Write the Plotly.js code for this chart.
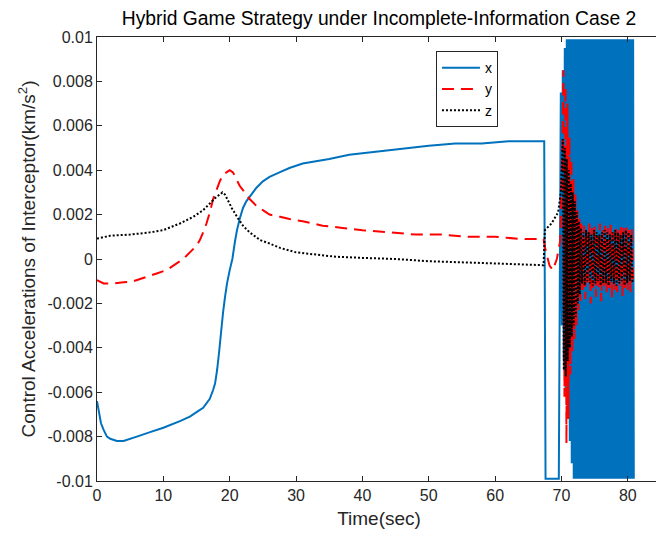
<!DOCTYPE html>
<html>
<head>
<meta charset="utf-8">
<script src="https://cdn.plot.ly/plotly-3.0.1.min.js"></script>
<style>
html, body { margin: 0; padding: 0; overflow: hidden; background: #fff; width: 656px; height: 541px; }
#chart { width: 700px; height: 541px; }
</style>
</head>
<body>
<div id="chart"></div>
<script>
// ---- Data ----
const seriesNames = ['x', 'y', 'z'];

const timeX = [0, 0.3, 0.6, 1, 1.5, 2, 3, 4, 6, 8, 10, 12.5, 14, 15, 16, 17, 17.5, 17.8, 18.1, 18.4,
  18.7, 19, 19.3, 19.6, 20, 20.4, 20.8, 21.1, 21.5, 22, 22.5, 23, 24, 25, 26, 27.5, 29, 31, 33, 35,
  38, 41, 44, 47, 50, 54, 58, 62, 67.4, 67.6, 69.6,
  69.9, 70.05, 70.2, 70.35, 70.5, 70.65, 70.8, 70.95, 71.1, 71.25, 71.4, 71.55, 71.7, 71.85,
  72.0, 72.1, 72.2, 72.3, 72.4, 72.5, 72.6, 72.7, 72.8, 72.9, 73.0, 73.1, 73.2, 73.3, 73.4, 73.5, 73.6, 73.7, 73.8, 73.9,
  74.0, 74.1, 74.2, 74.3, 74.4, 74.5, 74.6, 74.7, 74.8, 74.9, 75.0, 75.1, 75.2, 75.3, 75.4, 75.5, 75.6, 75.7, 75.8, 75.9,
  76.0, 76.1, 76.2, 76.3, 76.4, 76.5, 76.6, 76.7, 76.8, 76.9, 77.0, 77.1, 77.2, 77.3, 77.4, 77.5, 77.6, 77.7, 77.8, 77.9,
  78.0, 78.1, 78.2, 78.3, 78.4, 78.5, 78.6, 78.7, 78.8, 78.9, 79.0, 79.1, 79.2, 79.3, 79.4, 79.5, 79.6, 79.7, 79.8, 79.9,
  80.0, 80.1, 80.2, 80.3, 80.4, 80.5, 80.6, 80.7, 80.8, 80.9];
const accelX = [-0.0064, -0.0069, -0.0074, -0.0077, -0.0080, -0.0081, -0.0082, -0.0082, -0.0080, -0.0078,
  -0.0076, -0.0073, -0.0071, -0.0069, -0.0067, -0.0063, -0.0059, -0.0056, -0.0050, -0.0042,
  -0.0033, -0.0024, -0.0017, -0.0011, -0.0005, 0.0000, 0.0008, 0.0013, 0.0018, 0.0023,
  0.0026, 0.0028, 0.0032, 0.0035, 0.0037, 0.0039, 0.0041, 0.0043, 0.0044, 0.0045,
  0.0047, 0.0048, 0.0049, 0.0050, 0.0051, 0.0052, 0.0052, 0.0053, 0.0053, -0.0099, -0.0099,
  0.0075, -0.0030, 0.0085, -0.0045, 0.0095, -0.0060, 0.0099, -0.0072, 0.0099, -0.0082, 0.0099, -0.0092, 0.0099, -0.0099,
  0.0099, -0.0099, 0.0099, -0.0099, 0.0099, -0.0099, 0.0099, -0.0099, 0.0099, -0.0099, 0.0099, -0.0099, 0.0099, -0.0099, 0.0099, -0.0099, 0.0099, -0.0099, 0.0099, -0.0099,
  0.0099, -0.0099, 0.0099, -0.0099, 0.0099, -0.0099, 0.0099, -0.0099, 0.0099, -0.0099, 0.0099, -0.0099, 0.0099, -0.0099, 0.0099, -0.0099, 0.0099, -0.0099, 0.0099, -0.0099,
  0.0099, -0.0099, 0.0099, -0.0099, 0.0099, -0.0099, 0.0099, -0.0099, 0.0099, -0.0099, 0.0099, -0.0099, 0.0099, -0.0099, 0.0099, -0.0099, 0.0099, -0.0099, 0.0099, -0.0099,
  0.0099, -0.0099, 0.0099, -0.0099, 0.0099, -0.0099, 0.0099, -0.0099, 0.0099, -0.0099, 0.0099, -0.0099, 0.0099, -0.0099, 0.0099, -0.0099, 0.0099, -0.0099, 0.0099, -0.0099,
  0.0099, -0.0099, 0.0099, -0.0099, 0.0099, -0.0099, 0.0099, -0.0099, 0.0099, -0.0099];

const timeY = [0, 1, 2.4, 4, 5.5, 7.5, 9, 10.5, 12, 13, 14, 15, 15.5, 16, 16.5, 17, 17.5, 18, 18.5, 19,
  19.5, 20, 20.5, 21, 21.5, 22, 23, 24, 25, 26, 27.6, 29, 31, 34, 37, 40, 44, 48, 52, 56,
  60, 64, 67.3,
  67.6, 68.2, 68.7, 69.3, 69.8,
  70.1, 70.3, 70.45, 70.6, 70.75, 70.9, 71.05, 71.2, 71.35, 71.5, 71.65, 71.8, 71.95, 72.1, 72.25, 72.4, 72.55, 72.7, 72.85, 73.0,
  73.2, 73.4, 73.6, 73.8, 74.0, 74.2, 74.4, 74.6, 74.8, 75.0, 75.2, 75.4, 75.6, 75.8, 76.0, 76.2, 76.4, 76.6, 76.8, 77.0,
  77.2, 77.4, 77.6, 77.8, 78.0, 78.2, 78.4, 78.6, 78.8, 79.0, 79.2, 79.4, 79.6, 79.8, 80.0, 80.2, 80.4, 80.6, 80.8];
const accelY = [-0.00095, -0.0011, -0.0011, -0.00105, -0.0010, -0.0008, -0.00065, -0.0005, -0.0002, 0.0000,
  0.0003, 0.0006, 0.00085, 0.0012, 0.0016, 0.0021, 0.0027, 0.0031, 0.0035, 0.0038,
  0.0039, 0.0040, 0.0039, 0.0036, 0.0033, 0.0031, 0.0027, 0.0024, 0.0022, 0.0020,
  0.0019, 0.0018, 0.0017, 0.0015, 0.0014, 0.0013, 0.0012, 0.0011, 0.0011, 0.0010,
  0.0010, 0.0009, 0.0009,
  0.0004, -0.0003, -0.0005, 0.0000, 0.0008,
  0.0040, 0.0085, -0.0062, 0.0078, -0.0083, 0.0070, -0.0072, 0.0055, -0.0052, 0.0045, -0.0042, 0.0036, -0.0036, 0.0029, -0.0030, 0.0022, -0.0023, 0.0018, -0.0019, 0.0016,
  -0.0014, 0.0015, -0.0018, 0.0013, -0.0012, 0.0016, -0.0020, 0.0014, -0.0013, 0.0015, -0.0017, 0.0012, -0.0014, 0.0016, -0.0019, 0.0013, -0.0012, 0.0015, -0.0016, 0.0014,
  -0.0013, 0.0016, -0.0018, 0.0012, -0.0014, 0.0015, -0.0015, 0.0013, -0.0012, 0.0016, -0.0017, 0.0014, -0.0013, 0.0015, -0.0014, 0.0013, -0.0015, 0.0014, -0.0012];

const timeZ = [0, 2, 5, 8, 10, 12.5, 14.5, 16, 17, 18, 18.5, 18.9, 19.3, 19.8, 20.3, 21.1, 22, 23, 24.6, 26,
  27.6, 30, 33, 36, 40, 45, 50, 55, 60, 67.3,
  67.5, 68.5, 69.5,
  69.9, 70.2, 70.35, 70.5, 70.65, 70.8, 70.95, 71.1, 71.25, 71.4, 71.55, 71.7, 71.85, 72.0, 72.15, 72.3, 72.45, 72.6, 72.75, 72.9,
  73.1, 73.3, 73.5, 73.7, 73.9, 74.1, 74.3, 74.5, 74.7, 74.9, 75.1, 75.3, 75.5, 75.7, 75.9, 76.1, 76.3, 76.5, 76.7, 76.9,
  77.1, 77.3, 77.5, 77.7, 77.9, 78.1, 78.3, 78.5, 78.7, 78.9, 79.1, 79.3, 79.5, 79.7, 79.9, 80.1, 80.3, 80.5, 80.7];
const accelZ = [0.00092, 0.00105, 0.0011, 0.0012, 0.0013, 0.0016, 0.0019, 0.0022, 0.0025, 0.0028,
  0.0029, 0.0030, 0.0029, 0.0026, 0.0023, 0.0019, 0.0015, 0.0012, 0.00085, 0.0007,
  0.0005, 0.0003, 0.0002, 0.0001, 0.00005, 0.0, -0.0001, -0.00015, -0.0002, -0.00028,
  0.0013, 0.0016, 0.0021,
  0.0030, 0.0054, -0.0050, 0.0050, -0.0053, 0.0045, -0.0046, 0.0040, -0.0040, 0.0034, -0.0035, 0.0030, -0.0030, 0.0026, -0.0026, 0.0021, -0.0020, 0.0017, -0.0016, 0.0014,
  -0.0011, 0.0012, -0.0012, 0.0013, -0.0010, 0.0012, -0.0011, 0.0011, -0.0012, 0.0013,
  -0.0011, 0.0012, -0.0010, 0.0011, -0.0012, 0.0012, -0.0011, 0.0013, -0.0011, 0.0012,
  -0.0012, 0.0011, -0.0010, 0.0012, -0.0011, 0.0013, -0.0012, 0.0012, -0.0011, 0.0011,
  -0.0010, 0.0012, -0.0012, 0.0013, -0.0011, 0.0012, -0.0010, 0.0011, -0.0011];

const xTickVals = [0, 10, 20, 30, 40, 50, 60, 70, 80];
const xTickText = ['0', '10', '20', '30', '40', '50', '60', '70', '80'];
const yTickVals = [-0.01, -0.008, -0.006, -0.004, -0.002, 0, 0.002, 0.004, 0.006, 0.008, 0.01];
const yTickText = ['-0.01', '-0.008', '-0.006', '-0.004', '-0.002', '0', '0.002', '0.004', '0.006', '0.008', '0.01'];

// ---- Chart ----
const FONT = 'Liberation Sans, Arial, Helvetica, sans-serif';
const AX = '#262626';

const traces = [
  { x: timeX, y: accelX, name: seriesNames[0], type: 'scatter', mode: 'lines',
    line: { color: '#0072BD', width: 2, simplify: false } },
  { x: timeY, y: accelY, name: seriesNames[1], type: 'scatter', mode: 'lines',
    line: { color: '#FF0000', width: 2, dash: '12px,7px', simplify: false } },
  { x: timeZ, y: accelZ, name: seriesNames[2], type: 'scatter', mode: 'lines',
    line: { color: '#000000', width: 2, dash: '2px,2px', simplify: false } }
];

const axisCommon = {
  showgrid: false, zeroline: false, showline: true, linecolor: AX, linewidth: 1,
  mirror: 'ticks', ticks: 'inside', ticklen: 5, tickcolor: AX, tickwidth: 1,
  tickfont: { family: FONT, size: 16, color: AX }
};

const layout = {
  width: 700, height: 541,
  margin: { l: 97, r: 39, t: 37, b: 60 },
  paper_bgcolor: '#fff', plot_bgcolor: '#fff',
  font: { family: FONT, color: AX },
  title: { text: 'Hybrid Game Strategy under Incomplete-Information Case 2',
    font: { family: FONT, size: 19.3, color: '#000' },
    x: 0.5, xref: 'paper', xanchor: 'center', y: 0.967, yref: 'container', yanchor: 'middle' },
  xaxis: Object.assign({}, axisCommon, {
    range: [0, 85], tickmode: 'array', tickvals: xTickVals, ticktext: xTickText,
    title: { text: 'Time(sec)', font: { family: FONT, size: 19, color: AX }, standoff: 8 }
  }),
  yaxis: Object.assign({}, axisCommon, {
    range: [-0.01, 0.01], tickmode: 'array', tickvals: yTickVals, ticktext: yTickText,
    title: { text: 'Control Accelerations of Interceptor(km/s<sup>2</sup>)', font: { family: FONT, size: 19, color: AX }, standoff: 6 }
  }),
  showlegend: true,
  legend: {
    x: 0.601, y: 0.968, xanchor: 'left', yanchor: 'top',
    bgcolor: '#fff', bordercolor: AX, borderwidth: 1,
    font: { family: FONT, size: 14, color: '#000' },
    itemwidth: 38, tracegroupgap: 0
  }
};

Plotly.newPlot('chart', traces, layout, { staticPlot: true, displayModeBar: false });
</script>
</body>
</html>
